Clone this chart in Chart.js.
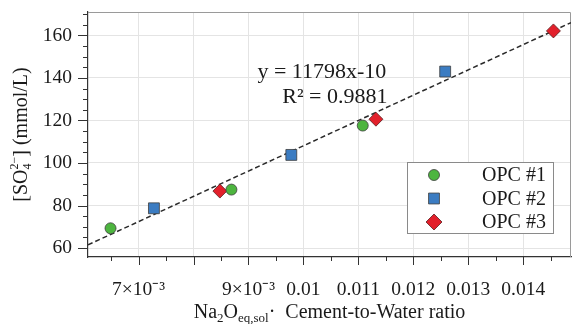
<!DOCTYPE html>
<html>
<head>
<meta charset="utf-8">
<script src="https://cdn.jsdelivr.net/npm/chart.js@4.4.0/dist/chart.umd.min.js"></script>
<style>
html, body { margin: 0; padding: 0; background: #fff; }
#wrap { width: 572px; height: 324px; }
</style>
</head>
<body>
<div id="wrap"><canvas id="scatterPlot"></canvas></div>
<script>
// values
var seriesNames = ['OPC #1', 'OPC #2', 'OPC #3'];
var opc1X = [0.00649, 0.00869, 0.01108];
var opc1Y = [69.3, 87.5, 117.6];
var opc2X = [0.00728, 0.00978, 0.01258];
var opc2Y = [78.7, 103.8, 143.0];
var opc3X = [0.00848, 0.01132, 0.01455];
var opc3Y = [86.8, 120.6, 162.1];
var fitX = [0.00608, 0.01487];
var fitY = [61.5, 166];
var fitText = ['y = 11798x-10', 'R² = 0.9881'];
var xTickValues = [0.007, 0.008, 0.009, 0.010, 0.011, 0.012, 0.013, 0.014];
var xTickLabels = ['7×10⁻³', '', '9×10⁻³', '0.01', '0.011', '0.012', '0.013', '0.014'];
var yTickValues = [60, 80, 100, 120, 140, 160];

var serif = '"Liberation Serif", "Times New Roman", serif';
function font(size) { return size + 'px ' + serif; }

function toPoints(xs, ys) {
    return xs.map(function (x, i) { return { x: x, y: ys[i] }; });
}

// groups of text pieces; pieces in one group share the same x (stacked sup/sub)
function groupsWidth(ctx, groups) {
    var total = 0;
    groups.forEach(function (g) {
        var w = 0;
        g.forEach(function (p) {
            ctx.font = font(p.s);
            w = Math.max(w, ctx.measureText(p.t).width);
        });
        total += w;
    });
    return total;
}

function drawGroups(ctx, groups, cx, baseY) {
    var x = cx - groupsWidth(ctx, groups) / 2;
    ctx.textAlign = 'left';
    ctx.textBaseline = 'alphabetic';
    groups.forEach(function (g) {
        var w = 0;
        g.forEach(function (p) {
            ctx.font = font(p.s);
            ctx.fillText(p.t, x, baseY + (p.dy || 0));
            w = Math.max(w, ctx.measureText(p.t).width);
        });
        x += w;
    });
}

var decorPlugin = {
    id: 'decor',
    beforeDatasetsDraw: function (chart) {
        var ctx = chart.ctx, ca = chart.chartArea;
        ctx.save();
        ctx.strokeStyle = '#9a9a9a';
        ctx.lineWidth = 1;
        ctx.beginPath();
        ctx.moveTo(ca.left, ca.top + 0.5);
        ctx.lineTo(ca.right - 0.5, ca.top + 0.5);
        ctx.lineTo(ca.right - 0.5, ca.bottom);
        ctx.stroke();
        ctx.restore();
    },
    afterDraw: function (chart) {
        var ctx = chart.ctx, ca = chart.chartArea;
        var xs = chart.scales.x, ys = chart.scales.y;
        ctx.save();

        // tick marks, major and minor
        ctx.strokeStyle = '#333';
        ctx.lineWidth = 1;
        ctx.beginPath();
        for (var k = Math.ceil(xs.min / 0.0005); k * 0.0005 <= xs.max; k++) {
            var px = Math.round(xs.getPixelForValue(k * 0.0005)) + 0.5;
            var len = (k % 2 === 0) ? 8 : 4;
            ctx.moveTo(px, ca.bottom);
            ctx.lineTo(px, ca.bottom + len);
        }
        for (var j = Math.ceil(ys.min / 5); j * 5 <= ys.max; j++) {
            var py = Math.round(ys.getPixelForValue(j * 5)) + 0.5;
            var l2 = ((j * 5) % 20 === 0) ? 10 : 5;
            ctx.moveTo(ca.left, py);
            ctx.lineTo(ca.left - l2, py);
        }
        ctx.stroke();

        // fit equation
        ctx.fillStyle = '#1a1a1a';
        ctx.font = font(22);
        ctx.textAlign = 'right';
        ctx.textBaseline = 'middle';
        ctx.fillText(fitText[0], xs.getPixelForValue(0.01151), ys.getPixelForValue(142.8));
        ctx.fillText(fitText[1], xs.getPixelForValue(0.01153), ys.getPixelForValue(131.1));

        // axis titles
        drawGroups(ctx, [
            [{ t: 'Na', s: 20 }],
            [{ t: '2', s: 13, dy: 4 }],
            [{ t: 'O', s: 20 }],
            [{ t: 'eq,sol', s: 13, dy: 4 }],
            [{ t: '\u00b7  Cement-to-Water ratio', s: 20 }]
        ], (ca.left + ca.right) / 2, 318);

        ctx.save();
        ctx.translate(27, (ca.top + ca.bottom) / 2);
        ctx.rotate(-Math.PI / 2);
        drawGroups(ctx, [
            [{ t: '[SO', s: 20 }],
            [{ t: '2\u2212', s: 12, dy: -9 }, { t: '4', s: 12, dy: 4 }],
            [{ t: '] (mmol/L)', s: 20 }]
        ], 0, 0);
        ctx.restore();

        // legend
        var bx = ca.right - 164, by = ca.bottom - 95, bw = 146, bh = 71;
        ctx.fillStyle = '#fff';
        ctx.fillRect(bx, by, bw, bh);
        ctx.strokeStyle = '#8a8a8a';
        ctx.lineWidth = 1;
        ctx.strokeRect(bx + 0.5, by + 0.5, bw, bh);
        chart.data.datasets.forEach(function (ds, i) {
            if (i >= seriesNames.length) return;
            var ry = by + 13 + i * 23.5;
            ctx.fillStyle = ds.backgroundColor;
            ctx.strokeStyle = ds.borderColor;
            ctx.lineWidth = ds.borderWidth;
            Chart.helpers.drawPoint(ctx, {
                pointStyle: ds.pointStyle,
                radius: ds.pointStyle === 'rectRot' ? 8 : ds.pointRadius,
                rotation: 0,
                borderWidth: ds.borderWidth
            }, bx + 27, ry);
            ctx.fillStyle = '#1a1a1a';
            ctx.font = font(20);
            ctx.textAlign = 'left';
            ctx.textBaseline = 'middle';
            ctx.fillText(seriesNames[i], bx + 75, ry + 1);
        });
        ctx.restore();
    }
};

var ctx = document.getElementById('scatterPlot').getContext('2d');
var scatterChart = new Chart(ctx, {
    type: 'scatter',
    data: {
        datasets: [{
            label: seriesNames[0],
            data: toPoints(opc1X, opc1Y),
            pointStyle: 'circle',
            pointRadius: 5.5,
            backgroundColor: '#4db53f',
            borderColor: '#3d3d3d',
            borderWidth: 0.8,
            order: 0
        }, {
            label: seriesNames[1],
            data: toPoints(opc2X, opc2Y),
            pointStyle: 'rect',
            pointRadius: 7.7,
            backgroundColor: '#3b7cc2',
            borderColor: '#3d3d3d',
            borderWidth: 0.8,
            order: 0
        }, {
            label: seriesNames[2],
            data: toPoints(opc3X, opc3Y),
            pointStyle: 'rectRot',
            pointRadius: 7,
            backgroundColor: '#e2202b',
            borderColor: '#5a2020',
            borderWidth: 0.8,
            order: 0
        }, {
            label: 'fit',
            type: 'line',
            data: toPoints(fitX, fitY),
            showLine: true,
            borderColor: '#2a2a2a',
            borderWidth: 1.5,
            borderDash: [5, 3],
            pointRadius: 0,
            order: 5
        }]
    },
    options: {
        responsive: true,
        maintainAspectRatio: false,
        animation: false,
        layout: { autoPadding: false, padding: { top: 12, right: 1, left: 0, bottom: 0 } },
        plugins: {
            legend: { display: false },
            tooltip: { enabled: false }
        },
        scales: {
            x: {
                type: 'linear',
                min: 0.00608,
                max: 0.01487,
                afterBuildTicks: function (s) { s.ticks = xTickValues.map(function (v) { return { value: v }; }); },
                afterFit: function (s) {
                    s.height = 67;
                    s.paddingLeft = 0;
                    s.paddingRight = 0;
                },
                grid: { color: '#e4e4e4', drawTicks: false },
                border: { color: '#333', width: 1.2 },
                ticks: {
                    padding: 21,
                    color: '#1a1a1a',
                    autoSkip: false,
                    maxRotation: 0,
                    font: { family: serif, size: 19.5 },
                    callback: function (v, i) { return xTickLabels[i]; }
                }
            },
            y: {
                type: 'linear',
                min: 55.8,
                max: 171,
                afterBuildTicks: function (s) { s.ticks = yTickValues.map(function (v) { return { value: v }; }); },
                afterFit: function (s) {
                    s.width = 88;
                    s.paddingTop = 0;
                    s.paddingBottom = 0;
                },
                grid: { color: '#e4e4e4', drawTicks: false },
                border: { color: '#333', width: 1.2 },
                ticks: {
                    padding: 16,
                    color: '#1a1a1a',
                    font: { family: serif, size: 19.5 },
                    callback: function (v) { return v; }
                }
            }
        }
    },
    plugins: [decorPlugin]
});
</script>
</body>
</html>
